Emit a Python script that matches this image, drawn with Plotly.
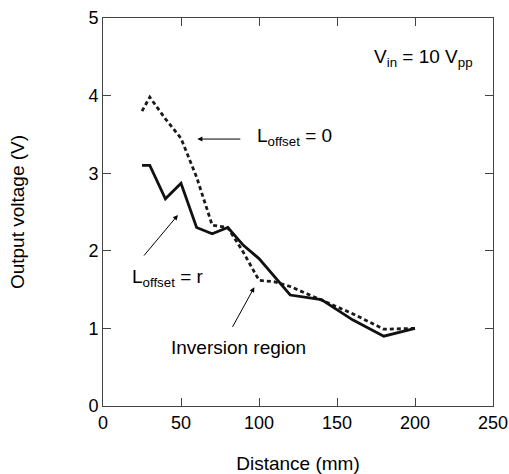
import plotly.graph_objects as go

# Data
dist_r = [25, 30, 40, 50, 60, 70, 80, 90, 100, 120, 140, 160, 180, 200]
volt_r = [3.10, 3.10, 2.67, 2.87, 2.30, 2.22, 2.30, 2.07, 1.90, 1.43, 1.37, 1.11, 0.90, 1.00]

dist_0 = [25, 30, 40, 50, 60, 70, 80, 90, 100, 110, 120, 140, 160, 180, 200]
volt_0 = [3.80, 3.98, 3.70, 3.45, 2.95, 2.33, 2.30, 1.98, 1.62, 1.60, 1.54, 1.37, 1.19, 0.99, 1.00]

x_ticks = [0, 50, 100, 150, 200, 250]
y_ticks = [0, 1, 2, 3, 4, 5]

FONT = "Liberation Sans, Arial, sans-serif"

fig = go.Figure()
fig.add_trace(go.Scatter(x=dist_0, y=volt_0, mode="lines",
                         line=dict(color="#1a1a1a", width=2.8, dash="4px,3px"),
                         showlegend=False, hoverinfo="skip"))
fig.add_trace(go.Scatter(x=dist_r, y=volt_r, mode="lines",
                         line=dict(color="#111111", width=2.8),
                         showlegend=False, hoverinfo="skip"))

axis_common = dict(showline=True, linecolor="#444444", linewidth=1, mirror="ticks",
                   ticks="inside", ticklen=8, tickcolor="#444444", tickwidth=1,
                   showgrid=False, zeroline=False, automargin=False,
                   tickfont=dict(family=FONT, size=18, color="#000000"))

fig.update_xaxes(range=[0, 250], tickvals=x_ticks,
                 title=dict(text="Distance (mm)", font=dict(family=FONT, size=19, color="#000000"), standoff=26),
                 **axis_common)
fig.update_yaxes(range=[0, 5], tickvals=y_ticks,
                 title=dict(text="Output voltage (V)", font=dict(family=FONT, size=19, color="#000000"), standoff=58),
                 **axis_common)

ann_font = dict(family=FONT, size=19, color="#000000")
fig.add_annotation(x=238.5, y=4.48, xref="x", yref="y", xanchor="right", yanchor="middle",
                   text="V<sub>in</sub> = 10 V<sub>pp</sub>", showarrow=False, font=ann_font)
fig.add_annotation(x=97.5, y=3.47, xref="x", yref="y", xanchor="left", yanchor="middle",
                   text="L<sub>offset</sub> = 0", showarrow=False, font=ann_font)
fig.add_annotation(x=60.5, y=3.44, ax=89, ay=3.44, xref="x", yref="y", axref="x", ayref="y",
                   text="", showarrow=True, arrowhead=2, arrowsize=1, arrowwidth=1, arrowcolor="#000000")
fig.add_annotation(x=17.3, y=1.65, xref="x", yref="y", xanchor="left", yanchor="middle",
                   text="L<sub>offset</sub> = r", showarrow=False, font=ann_font)
fig.add_annotation(x=48, y=2.46, ax=25.5, ay=1.92, xref="x", yref="y", axref="x", ayref="y",
                   text="", showarrow=True, arrowhead=2, arrowsize=1, arrowwidth=1, arrowcolor="#000000")
fig.add_annotation(x=42, y=0.75, xref="x", yref="y", xanchor="left", yanchor="middle",
                   text="Inversion region", showarrow=False, font=ann_font)
fig.add_annotation(x=97, y=1.53, ax=82.5, ay=1.0, xref="x", yref="y", axref="x", ayref="y",
                   text="", showarrow=True, arrowhead=2, arrowsize=1, arrowwidth=1, arrowcolor="#000000")

fig.update_layout(width=509, height=474,
                  margin=dict(l=103, r=16, t=18, b=68),
                  paper_bgcolor="white", plot_bgcolor="white",
                  font=dict(family=FONT, color="#000000"))

fig.write_html("out.html", config={"displayModeBar": False, "staticPlot": True},
               post_script="document.body.style.margin='0';document.body.style.overflow='hidden';")
